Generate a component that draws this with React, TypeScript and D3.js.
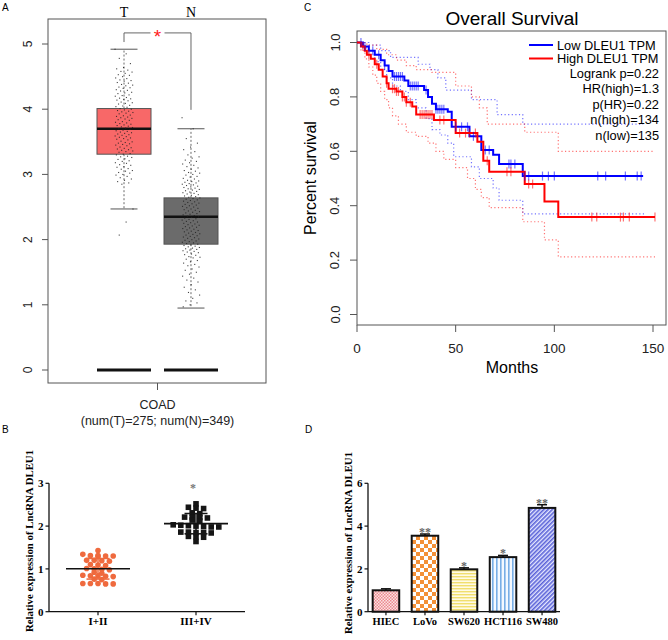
import React from 'react';
import * as d3 from 'd3';

// ---------- Panel A data (GEPIA boxplot) ----------
const boxGroups = ['T', 'N'];
const boxMedian = [3.7, 2.35];
const boxQ1 = [3.31, 1.93];
const boxQ3 = [4.01, 2.64];
const boxLow = [2.47, 0.95];
const boxHigh = [4.92, 3.7];
const aTicks = [0, 1, 2, 3, 4, 5];
const tumorValues = [
  4.92, 4.85, 4.78, 4.7, 4.64, 4.62, 4.6, 4.58, 4.57, 4.55, 4.53, 4.52, 4.5, 4.48, 4.47, 4.45, 4.44, 4.43, 4.41, 4.4,
  4.38, 4.37, 4.36, 4.34, 4.33, 4.32, 4.3, 4.29, 4.28, 4.26, 4.25, 4.24, 4.22, 4.21, 4.2, 4.18, 4.17, 4.16, 4.15, 4.14,
  4.13, 4.11, 4.1, 4.09, 4.08, 4.06, 4.05, 4.04, 4.03, 4.01, 4.0, 3.99, 3.98, 3.97, 3.96, 3.95, 3.94, 3.93, 3.91, 3.9,
  3.89, 3.88, 3.87, 3.86, 3.85, 3.84, 3.83, 3.81, 3.8, 3.79, 3.78, 3.77, 3.76, 3.75, 3.74, 3.73, 3.72, 3.71, 3.7, 3.69,
  3.68, 3.67, 3.66, 3.65, 3.64, 3.63, 3.62, 3.61, 3.6, 3.59, 3.58, 3.57, 3.56, 3.55, 3.54, 3.53, 3.51, 3.5, 3.49, 3.48,
  3.47, 3.46, 3.45, 3.44, 3.42, 3.41, 3.4, 3.39, 3.38, 3.37, 3.36, 3.35, 3.34, 3.32, 3.31, 3.3, 3.28, 3.27, 3.26, 3.24,
  3.23, 3.21, 3.2, 3.18, 3.17, 3.15, 3.14, 3.12, 3.11, 3.09, 3.08, 3.06, 3.05, 3.03, 3.02, 3.0, 2.99, 2.97, 2.95, 2.93,
  2.91, 2.89, 2.87, 2.85, 2.47, 2.27, 2.07,
];
const normalValues = [
  3.87, 3.7, 3.55, 3.48, 3.42, 3.38, 3.35, 3.3, 3.27, 3.25, 3.22, 3.2, 3.18, 3.16, 3.14, 3.12, 3.1, 3.08, 3.06, 3.05,
  3.03, 3.02, 3.0, 2.99, 2.97, 2.96, 2.94, 2.93, 2.91, 2.9, 2.89, 2.88, 2.87, 2.86, 2.85, 2.84, 2.83, 2.82, 2.81, 2.8,
  2.79, 2.78, 2.77, 2.76, 2.75, 2.74, 2.73, 2.72, 2.71, 2.7, 2.69, 2.68, 2.67, 2.66, 2.65, 2.64, 2.63, 2.62, 2.61, 2.6,
  2.59, 2.58, 2.57, 2.56, 2.55, 2.54, 2.53, 2.52, 2.51, 2.5, 2.49, 2.48, 2.47, 2.46, 2.45, 2.44, 2.43, 2.42, 2.41, 2.4,
  2.39, 2.38, 2.37, 2.36, 2.35, 2.34, 2.33, 2.32, 2.31, 2.3, 2.29, 2.28, 2.27, 2.26, 2.25, 2.24, 2.23, 2.22, 2.21, 2.2,
  2.19, 2.18, 2.17, 2.16, 2.15, 2.14, 2.13, 2.12, 2.11, 2.1, 2.09, 2.08, 2.07, 2.06, 2.05, 2.04, 2.03, 2.02, 2.01, 2.0,
  1.99, 1.98, 1.97, 1.96, 1.95, 1.94, 1.93, 1.92, 1.91, 1.9, 1.89, 1.88, 1.87, 1.86, 1.85, 1.84, 1.83, 1.82, 1.81, 1.8,
  1.78, 1.77, 1.76, 1.74, 1.73, 1.72, 1.7, 1.68, 1.66, 1.64, 1.62, 1.6, 1.58, 1.55, 1.53, 1.5, 1.47, 1.44, 1.41, 1.38,
  1.35, 1.31, 1.27, 1.23, 1.19, 1.15, 1.1, 1.06, 1.03, 1.0, 0.97,
];

// ---------- Panel C data (Kaplan-Meier) ----------
const cTicksY = [0, 0.2, 0.4, 0.6, 0.8, 1.0];
const cTicksX = [0, 50, 100, 150];
const lowTimes = [0, 3, 6, 9, 12, 14, 16, 18, 24, 26, 34, 36, 38, 40, 46, 48, 57, 63, 69, 72, 84, 145];
const lowSurv = [1, 0.985, 0.97, 0.955, 0.935, 0.915, 0.895, 0.875, 0.86, 0.84, 0.825, 0.8, 0.775, 0.755, 0.745, 0.69, 0.655, 0.605, 0.587, 0.553, 0.509, 0.509];
const highTimes = [0, 2, 4, 5, 7, 9, 11, 13, 15, 16, 20, 23, 25, 28, 30, 39, 50, 61, 64, 67, 85, 95, 102, 151];
const highSurv = [1, 0.985, 0.97, 0.955, 0.94, 0.92, 0.9, 0.875, 0.85, 0.83, 0.82, 0.8, 0.78, 0.765, 0.735, 0.715, 0.667, 0.635, 0.565, 0.525, 0.48, 0.415, 0.358, 0.358];
const lowUpTimes = [0, 6, 12, 17, 31, 37, 41, 45, 58, 71, 84, 145];
const lowUpSurv = [1, 0.99, 0.97, 0.945, 0.92, 0.9, 0.87, 0.825, 0.79, 0.735, 0.7, 0.7];
const lowLoTimes = [0, 3, 6, 9, 12, 15, 18, 22, 26, 30, 35, 38, 42, 46, 49, 58, 62, 69, 72, 84, 146];
const lowLoSurv = [1, 0.98, 0.955, 0.93, 0.9, 0.87, 0.84, 0.82, 0.79, 0.76, 0.72, 0.68, 0.66, 0.63, 0.58, 0.543, 0.5, 0.465, 0.42, 0.37, 0.37];
const highUpTimes = [0, 5, 10, 15, 20, 25, 30, 38, 50, 58, 62, 66, 85, 102, 151];
const highUpSurv = [1, 0.99, 0.975, 0.955, 0.935, 0.915, 0.9, 0.89, 0.84, 0.8, 0.76, 0.7, 0.67, 0.6, 0.6];
const highLoTimes = [0, 2, 4, 6, 8, 10, 12, 14, 16, 18, 21, 25, 30, 36, 40, 44, 50, 56, 60, 63, 67, 84, 95, 102, 151];
const highLoSurv = [1, 0.97, 0.94, 0.91, 0.88, 0.85, 0.82, 0.79, 0.76, 0.73, 0.7, 0.67, 0.655, 0.63, 0.6, 0.57, 0.54, 0.5, 0.46, 0.43, 0.393, 0.341, 0.274, 0.212, 0.212];
const lowCensor = [2, 4, 8, 11, 14, 19, 20, 21, 22, 23, 27, 28, 29, 30, 31, 35, 40, 41, 42, 43, 44, 50, 53, 56, 59, 65, 67, 77, 78, 80, 85, 87, 94, 97, 100, 122, 126, 136, 142, 144];
const highCensor = [3, 6, 10, 15, 18, 19, 20, 21, 23, 24, 25, 27, 32, 33, 34, 35, 36, 37, 38, 42, 44, 52, 55, 57, 60, 66, 76, 78, 87, 89, 119, 121.5, 133.5, 135, 138, 151];
const legendLabels = ['Low DLEU1 TPM', 'High DLEU1 TPM'];
const statLabels = ['Logrank p=0.22', 'HR(high)=1.3', 'p(HR)=0.22', 'n(high)=134', 'n(low)=135'];

// ---------- Panel B data (scatter dot plot) ----------
const stageGroups = ['I+II', 'III+IV'];
const earlyValues = [1.43, 1.34, 1.31, 1.31, 1.3, 1.3, 1.29, 1.2, 1.2, 1.19, 1.18, 1.1, 1.09, 1.08, 1.01, 1.0, 0.99, 0.98, 0.92, 0.9, 0.85, 0.84, 0.84, 0.83, 0.82, 0.76, 0.75, 0.66, 0.66, 0.66, 0.65, 0.65];
const lateValues = [2.52, 2.44, 2.42, 2.41, 2.31, 2.29, 2.21, 2.2, 2.2, 2.19, 2.14, 2.12, 2.03, 2.02, 2.01, 2.0, 1.99, 1.98, 1.98, 1.86, 1.86, 1.85, 1.85, 1.84, 1.76, 1.75, 1.74, 1.64];
const bTicks = [0, 1, 2, 3];

// ---------- Panel D data (bar chart) ----------
const cellLines = ['HIEC', 'LoVo', 'SW620', 'HCT116', 'SW480'];
const cellExpr = [1.0, 3.55, 1.98, 2.55, 4.85];
const cellErr = [0.07, 0.08, 0.07, 0.08, 0.15];
const cellStars = ['', '**', '*', '*', '**'];
const dTicks = [0, 2, 4, 6];

const fSans = "'Liberation Sans', Arial, sans-serif";
const fSerif = "'Liberation Serif', 'Times New Roman', serif";

function stepPath(times: number[], surv: number[], x: any, y: any) {
  const pts = times.map((t, i) => [t, surv[i]] as [number, number]);
  return d3.line<[number, number]>().x(d => x(d[0])).y(d => y(d[1])).curve(d3.curveStepAfter)(pts) || '';
}

function survAt(times: number[], surv: number[], t: number) {
  const i = d3.bisectRight(times, t) - 1;
  return surv[Math.max(0, i)];
}

function swarm(values: number[], cx: number, spacing: number) {
  const sorted = [...values].sort((a, b) => b - a);
  const rows: number[][] = [];
  sorted.forEach(v => {
    const last = rows[rows.length - 1];
    if (!last || last[0] - v > 0.05) rows.push([v]);
    else last.push(v);
  });
  return rows.flatMap(row => row.map((v, k) => ({ v, x: cx + (k - (row.length - 1) / 2) * spacing })));
}

export default function App() {
  // ---- Panel A ----
  const yA = d3.scaleLinear().domain([0, 5]).range([370, 44]);
  const xA = d3.scaleBand().domain(boxGroups).range([97, 218]).paddingInner(0.194);
  const bw = xA.bandwidth();
  const boxFills = ['#F86868', '#6B6B6B'];
  const groupDots = [tumorValues, normalValues];

  // ---- Panel C ----
  const xC = d3.scaleLinear().domain([0, 150]).range([357, 653]);
  const yC = d3.scaleLinear().domain([0, 1]).range([314.5, 42.5]);

  // ---- Panel B ----
  const xB = d3.scalePoint().domain(stageGroups).range([49, 245]).padding(0.5);
  const yB = d3.scaleLinear().domain([0, 3]).range([611.7, 483.3]);
  const earlyPts = swarm(earlyValues, xB('I+II')!, 7.6);
  const latePts = swarm(lateValues, xB('III+IV')!, 7.6);
  const stageStats = [earlyValues, lateValues].map(v => ({ m: d3.mean(v)!, sd: d3.deviation(v)! }));

  // ---- Panel D ----
  const xD = d3.scaleBand().domain(cellLines).range([368, 560]).paddingInner(0.32).paddingOuter(0.12);
  const yD = d3.scaleLinear().domain([0, 6]).range([611.7, 483.3]);
  const patterns = ['patHIEC', 'patLoVo', 'patSW620', 'patHCT', 'patSW480'];

  return (
    <svg width={668} height={640} style={{ position: 'absolute', left: 0, top: 0, background: '#fff' }}>
      <defs>
        <pattern id="patHIEC" width={3} height={3} patternUnits="userSpaceOnUse">
          <rect width={3} height={3} fill="#fbe3e3" />
          <rect width={1.5} height={1.5} fill="#ec8a90" />
          <rect x={1.5} y={1.5} width={1.5} height={1.5} fill="#ec8a90" />
        </pattern>
        <pattern id="patLoVo" width={8} height={8} patternUnits="userSpaceOnUse">
          <rect width={8} height={8} fill="#fff" />
          <rect width={4} height={4} fill="#f39036" />
          <rect x={4} y={4} width={4} height={4} fill="#f39036" />
        </pattern>
        <pattern id="patSW620" width={3} height={3} patternUnits="userSpaceOnUse">
          <rect width={3} height={3} fill="#fffbe6" />
          <rect width={3} height={1.4} fill="#f1df6e" />
        </pattern>
        <pattern id="patHCT" width={4} height={4} patternUnits="userSpaceOnUse">
          <rect width={4} height={4} fill="#f4f9ff" />
          <rect width={1.6} height={4} fill="#78aee6" />
        </pattern>
        <pattern id="patSW480" width={3} height={3} patternUnits="userSpaceOnUse" patternTransform="rotate(45)">
          <rect width={3} height={3} fill="#e6e8ff" />
          <rect width={1.6} height={3} fill="#5a62d8" />
        </pattern>
      </defs>

      {/* Panel labels */}
      <text x={2} y={11} fontFamily={fSans} fontSize={10}>A</text>
      <text x={304} y={11} fontFamily={fSans} fontSize={10}>C</text>
      <text x={2} y={433} fontFamily={fSans} fontSize={10}>B</text>
      <text x={305} y={433} fontFamily={fSans} fontSize={10}>D</text>

      {/* ================= Panel A ================= */}
      <g>
        <rect x={48} y={19} width={218} height={364} fill="none" stroke="#555" strokeWidth={1} />
        {aTicks.map(t => (
          <g key={t}>
            <line x1={42} x2={48} y1={yA(t)} y2={yA(t)} stroke="#555" />
            <text x={28} y={yA(t)} transform={`rotate(-90 28 ${yA(t)})`} textAnchor="middle" dominantBaseline="central" fontFamily={fSans} fontSize={12} fill="#222">{t}</text>
          </g>
        ))}
        <line x1={157.5} x2={157.5} y1={383} y2={390} stroke="#555" />
        <text x={157.5} y={409} textAnchor="middle" fontFamily={fSans} fontSize={12.5} fill="#222">COAD</text>
        <text x={157.5} y={425} textAnchor="middle" fontFamily={fSans} fontSize={12.5} fill="#222">(num(T)=275; num(N)=349)</text>
        {boxGroups.map((g, i) => {
          const x0 = xA(g)!;
          const cx = x0 + bw / 2;
          return (
            <g key={g}>
              <text x={cx} y={17} textAnchor="middle" fontFamily={fSerif} fontSize={14}>{g}</text>
              <line x1={cx} x2={cx} y1={yA(boxQ3[i])} y2={yA(boxHigh[i])} stroke="#444" strokeDasharray="2,2" strokeWidth={0.8} />
              <line x1={cx} x2={cx} y1={yA(boxQ1[i])} y2={yA(boxLow[i])} stroke="#444" strokeDasharray="2,2" strokeWidth={0.8} />
              <line x1={cx - 13.5} x2={cx + 13.5} y1={yA(boxHigh[i])} y2={yA(boxHigh[i])} stroke="#555" />
              <line x1={cx - 13.5} x2={cx + 13.5} y1={yA(boxLow[i])} y2={yA(boxLow[i])} stroke="#555" />
              <rect x={x0} y={yA(boxQ3[i])} width={bw} height={yA(boxQ1[i]) - yA(boxQ3[i])} fill={boxFills[i]} stroke="#555" />
              <line x1={x0} x2={x0 + bw} y1={yA(boxMedian[i])} y2={yA(boxMedian[i])} stroke="#111" strokeWidth={2.5} />
              <line x1={x0} x2={x0 + bw} y1={yA(0)} y2={yA(0)} stroke="#111" strokeWidth={3} />
              {groupDots[i].map((v, k) => (
                <rect key={k} x={cx + (((k * 0.618034) % 1) - 0.5) * 18 - 0.5} y={yA(v) - 0.5} width={1.1} height={1.1} fill="#222" opacity={0.85} />
              ))}
            </g>
          );
        })}
        {/* significance bracket */}
        {(() => {
          const c1 = xA('T')! + bw / 2;
          const c2 = xA('N')! + bw / 2;
          const top = yA(5.17);
          return (
            <g>
              <path d={`M${c1},${yA(5.03)}V${top}H${c2}V${yA(3.99)}`} fill="none" stroke="#555" strokeWidth={0.9} />
              <rect x={(c1 + c2) / 2 - 7} y={top - 5} width={14} height={10} fill="#fff" />
              <text x={(c1 + c2) / 2} y={top + 10} textAnchor="middle" fontFamily={fSans} fontSize={19} fill="#ff2020">*</text>
            </g>
          );
        })()}
      </g>

      {/* ================= Panel C ================= */}
      <g>
        <text x={512} y={25} textAnchor="middle" fontFamily={fSans} fontSize={19}>Overall Survival</text>
        <rect x={357} y={31} width={309} height={294} fill="none" stroke="#555" strokeWidth={1} />
        {cTicksY.map(t => (
          <g key={t}>
            <line x1={350} x2={357} y1={yC(t)} y2={yC(t)} stroke="#555" />
            <text x={335} y={yC(t)} transform={`rotate(-90 335 ${yC(t)})`} textAnchor="middle" dominantBaseline="central" fontFamily={fSans} fontSize={13} fill="#222">{t.toFixed(1)}</text>
          </g>
        ))}
        {cTicksX.map(t => (
          <g key={t}>
            <line x1={xC(t)} x2={xC(t)} y1={325} y2={332} stroke="#555" />
            <text x={xC(t)} y={353} textAnchor="middle" fontFamily={fSans} fontSize={13.5} fill="#222">{t}</text>
          </g>
        ))}
        <text x={512} y={373} textAnchor="middle" fontFamily={fSans} fontSize={16}>Months</text>
        <text x={310} y={178} transform="rotate(-90 310 178)" textAnchor="middle" dominantBaseline="central" fontFamily={fSans} fontSize={16}>Percent survival</text>

        {/* confidence bands */}
        <path d={stepPath(lowUpTimes, lowUpSurv, xC, yC)} fill="none" stroke="#0000ff" strokeOpacity={0.55} strokeWidth={1.2} strokeDasharray="1.2,2.4" />
        <path d={stepPath(lowLoTimes, lowLoSurv, xC, yC)} fill="none" stroke="#0000ff" strokeOpacity={0.55} strokeWidth={1.2} strokeDasharray="1.2,2.4" />
        <path d={stepPath(highUpTimes, highUpSurv, xC, yC)} fill="none" stroke="#ff0000" strokeOpacity={0.55} strokeWidth={1.2} strokeDasharray="1.2,2.4" />
        <path d={stepPath(highLoTimes, highLoSurv, xC, yC)} fill="none" stroke="#ff0000" strokeOpacity={0.55} strokeWidth={1.2} strokeDasharray="1.2,2.4" />

        {/* survival curves */}
        <path d={stepPath(lowTimes, lowSurv, xC, yC)} fill="none" stroke="#0000ff" strokeWidth={2} />
        <path d={stepPath(highTimes, highSurv, xC, yC)} fill="none" stroke="#ff0000" strokeWidth={2} />
        {lowCensor.map((t, i) => {
          const y = yC(survAt(lowTimes, lowSurv, t));
          return <line key={'lc' + i} x1={xC(t)} x2={xC(t)} y1={y - 4.5} y2={y + 4.5} stroke="#0000ff" strokeOpacity={0.55} strokeWidth={1.2} />;
        })}
        {highCensor.map((t, i) => {
          const y = yC(survAt(highTimes, highSurv, t));
          return <line key={'hc' + i} x1={xC(t)} x2={xC(t)} y1={y - 4.5} y2={y + 4.5} stroke="#ff0000" strokeOpacity={0.55} strokeWidth={1.2} />;
        })}

        {/* legend */}
        {legendLabels.map((l, i) => (
          <g key={l}>
            <line x1={529} x2={553} y1={45 + i * 13.5} y2={45 + i * 13.5} stroke={i === 0 ? '#0000ff' : '#ff0000'} strokeWidth={2} />
            <text x={557} y={45 + i * 13.5} dominantBaseline="central" fontFamily={fSans} fontSize={12.8}>{l}</text>
          </g>
        ))}
        {statLabels.map((l, i) => (
          <text key={l} x={659} y={73.5 + i * 15.4} textAnchor="end" dominantBaseline="central" fontFamily={fSans} fontSize={12.8}>{l}</text>
        ))}
      </g>

      {/* ================= Panel B ================= */}
      <g fontFamily={fSerif} fontWeight="bold">
        <line x1={49} x2={49} y1={yB(3)} y2={yB(0)} stroke="#111" strokeWidth={1.3} />
        <line x1={49} x2={245} y1={yB(0)} y2={yB(0)} stroke="#111" strokeWidth={1.3} />
        {bTicks.map(t => (
          <g key={t}>
            <line x1={45.5} x2={49} y1={yB(t)} y2={yB(t)} stroke="#111" strokeWidth={1.2} />
            <text x={43.5} y={yB(t)} textAnchor="end" dominantBaseline="central" fontSize={11}>{t}</text>
          </g>
        ))}
        {stageGroups.map(g => (
          <g key={g}>
            <line x1={xB(g)!} x2={xB(g)!} y1={yB(0)} y2={yB(0) + 3.5} stroke="#111" strokeWidth={1.2} />
            <text x={xB(g)!} y={625} textAnchor="middle" fontSize={11}>{g}</text>
          </g>
        ))}
        <text x={29} y={541} transform="rotate(-90 29 541)" textAnchor="middle" dominantBaseline="central" fontSize={10.8}>Relative expression of LncRNA DLEU1</text>
        {earlyPts.map((p, i) => (
          <circle key={'e' + i} cx={p.x} cy={yB(p.v)} r={2.8} fill="#ef6a3e" />
        ))}
        {latePts.map((p, i) => (
          <rect key={'l' + i} x={p.x - 2.8} y={yB(p.v) - 2.8} width={5.6} height={5.6} fill="#151515" />
        ))}
        {stageGroups.map((g, i) => {
          const cx = xB(g)!;
          const col = i === 0 ? '#ef6a3e' : '#151515';
          const { m, sd } = stageStats[i];
          return (
            <g key={'s' + g}>
              <line x1={cx} x2={cx} y1={yB(m + sd)} y2={yB(m - sd)} stroke={col} strokeWidth={1.5} />
              <line x1={cx - 11.5} x2={cx + 11.5} y1={yB(m + sd)} y2={yB(m + sd)} stroke={col} strokeWidth={1.5} />
              <line x1={cx - 11.5} x2={cx + 11.5} y1={yB(m - sd)} y2={yB(m - sd)} stroke={col} strokeWidth={1.5} />
              <line x1={cx - 32} x2={cx + 32} y1={yB(m)} y2={yB(m)} stroke="#111" strokeWidth={1.6} />
            </g>
          );
        })}
        <text x={xB('III+IV')! - 3} y={yB(2.92) + 5} textAnchor="middle" fontSize={12} fill="#777">*</text>
      </g>

      {/* ================= Panel D ================= */}
      <g fontFamily={fSerif} fontWeight="bold">
        <line x1={368} x2={368} y1={yD(6)} y2={yD(0)} stroke="#111" strokeWidth={1.3} />
        <line x1={368} x2={560} y1={yD(0)} y2={yD(0)} stroke="#111" strokeWidth={1.3} />
        {dTicks.map(t => (
          <g key={t}>
            <line x1={364.5} x2={368} y1={yD(t)} y2={yD(t)} stroke="#111" strokeWidth={1.2} />
            <text x={362.5} y={yD(t)} textAnchor="end" dominantBaseline="central" fontSize={11}>{t}</text>
          </g>
        ))}
        <text x={348} y={543} transform="rotate(-90 348 543)" textAnchor="middle" dominantBaseline="central" fontSize={10.8}>Relative expression of LncRNA DLEU1</text>
        {cellLines.map((c, i) => {
          const x0 = xD(c)!;
          const w = xD.bandwidth();
          const cx = x0 + w / 2;
          const top = yD(cellExpr[i]);
          const errTop = yD(cellExpr[i] + cellErr[i]);
          return (
            <g key={c}>
              <line x1={cx} x2={cx} y1={top} y2={errTop} stroke="#111" strokeWidth={1.5} />
              <line x1={cx - 5} x2={cx + 5} y1={errTop} y2={errTop} stroke="#111" strokeWidth={1.5} />
              <rect x={x0} y={top} width={w} height={yD(0) - top} fill={`url(#${patterns[i]})`} stroke="#111" strokeWidth={2} />
              <line x1={cx} x2={cx} y1={yD(0)} y2={yD(0) + 3.5} stroke="#111" strokeWidth={1.2} />
              <text x={cx} y={625} textAnchor="middle" fontSize={10.5}>{c}</text>
              {cellStars[i] && (
                <text x={cx} y={errTop + 2} textAnchor="middle" fontSize={12} fill="#666">{cellStars[i]}</text>
              )}
            </g>
          );
        })}
      </g>
    </svg>
  );
}
